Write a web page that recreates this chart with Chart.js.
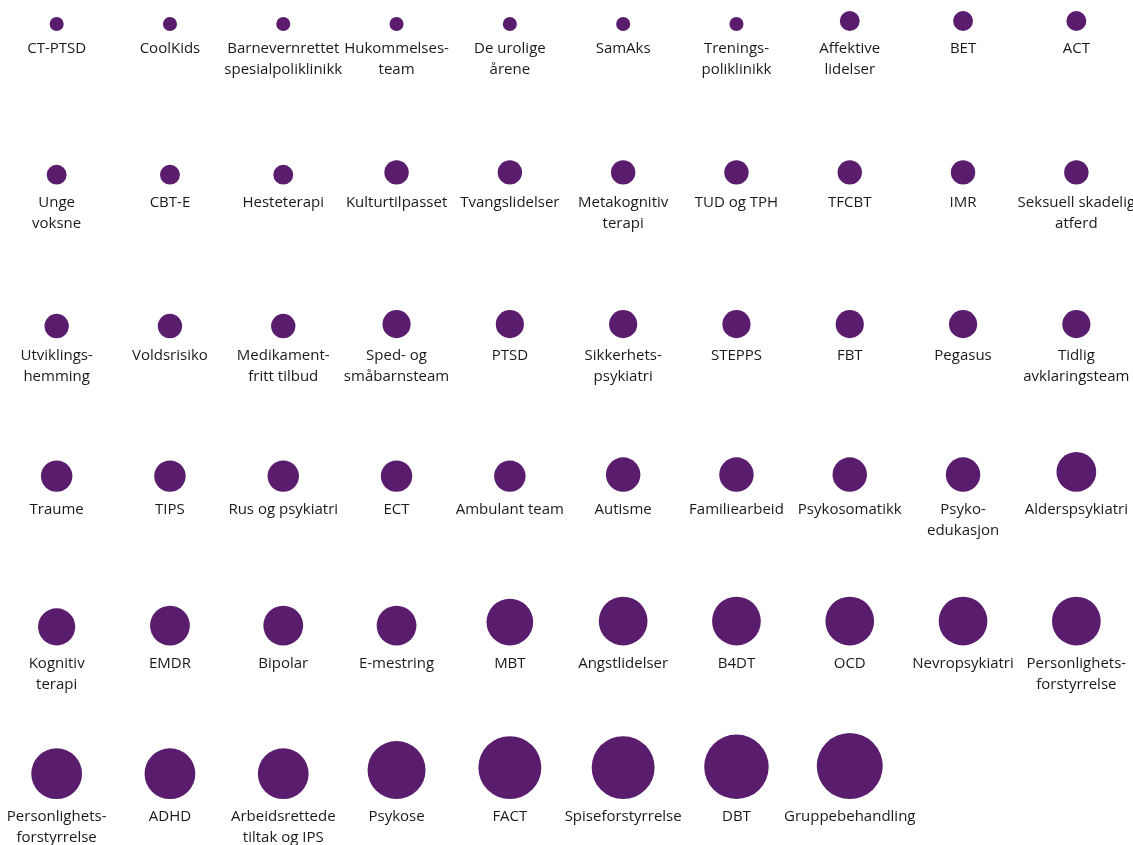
<!DOCTYPE html>
<html>
<head>
<meta charset="utf-8">
<script src="https://cdn.jsdelivr.net/npm/chart.js@4.4.1/dist/chart.umd.min.js"></script>
<style>
  html, body { margin: 0; padding: 0; background: #ffffff; }
  #wrap { width: 1133px; height: 845px; position: relative; }
</style>
</head>
<body>
<div id="wrap"><canvas id="c" width="1133" height="845"></canvas></div>
<script>
// ---- DATA ----
const categories = [
  ["CT-PTSD"], ["CoolKids"], ["Barnevernrettet", "spesialpoliklinikk"], ["Hukommelses-", "team"], ["De urolige", "årene"],
  ["SamAks"], ["Trenings-", "poliklinikk"], ["Affektive", "lidelser"], ["BET"], ["ACT"],
  ["Unge", "voksne"], ["CBT-E"], ["Hesteterapi"], ["Kulturtilpasset"], ["Tvangslidelser"],
  ["Metakognitiv", "terapi"], ["TUD og TPH"], ["TFCBT"], ["IMR"], ["Seksuell skadelig", "atferd"],
  ["Utviklings-", "hemming"], ["Voldsrisiko"], ["Medikament-", "fritt tilbud"], ["Sped- og", "småbarnsteam"], ["PTSD"],
  ["Sikkerhets-", "psykiatri"], ["STEPPS"], ["FBT"], ["Pegasus"], ["Tidlig", "avklaringsteam"],
  ["Traume"], ["TIPS"], ["Rus og psykiatri"], ["ECT"], ["Ambulant team"],
  ["Autisme"], ["Familiearbeid"], ["Psykosomatikk"], ["Psyko-", "edukasjon"], ["Alderspsykiatri"],
  ["Kognitiv", "terapi"], ["EMDR"], ["Bipolar"], ["E-mestring"], ["MBT"],
  ["Angstlidelser"], ["B4DT"], ["OCD"], ["Nevropsykiatri"], ["Personlighets-", "forstyrrelse"],
  ["Personlighets-", "forstyrrelse"], ["ADHD"], ["Arbeidsrettede", "tiltak og IPS"], ["Psykose"], ["FACT"],
  ["Spiseforstyrrelse"], ["DBT"], ["Gruppebehandling"]
];
const values = [
  1, 1, 1, 1, 1, 1, 1, 2, 2, 2,
  2, 2, 2, 3, 3, 3, 3, 3, 3, 3,
  3, 3, 3, 4, 4, 4, 4, 4, 4, 4,
  5, 5, 5, 5, 5, 6, 6, 6, 6, 8,
  7, 8, 8, 8, 11, 12, 12, 12, 12, 12,
  13, 13, 13, 17, 20, 20, 21, 22
];
const columnsPerRow = 10;

// ---- CHART ----
const COLOR = '#5a1d6e';
const maxR = 33;
const maxV = Math.max(...values);
const rFor = v => maxR * Math.sqrt(v / maxV);

const points = values.map((v, i) => ({
  x: i % columnsPerRow,
  y: Math.floor(i / columnsPerRow),
  r: rFor(v),
  label: categories[i]
}));

const FONT = '15px "Open Sans", "Noto Sans", sans-serif';

const bottomAlign = {
  id: 'bottomAlign',
  beforeDatasetsDraw(chart) {
    const ys = chart.scales.y;
    const meta = chart.getDatasetMeta(0);
    meta.data.forEach((el, i) => {
      const p = points[i];
      el.y = ys.getPixelForValue(p.y) - p.r;
    });
  }
};

const labelPlugin = {
  id: 'labelPlugin',
  afterDatasetsDraw(chart) {
    const ctx = chart.ctx;
    const xs = chart.scales.x, ys = chart.scales.y;
    ctx.save();
    ctx.font = FONT;
    ctx.fillStyle = '#1a1a1a';
    ctx.textAlign = 'center';
    ctx.textBaseline = 'middle';
    points.forEach(p => {
      const x = xs.getPixelForValue(p.x);
      const base = ys.getPixelForValue(p.y);
      p.label.forEach((line, j) => {
        ctx.fillText(line, x, base + 18 + j * 21);
      });
    });
    ctx.restore();
  }
};

new Chart(document.getElementById('c'), {
  type: 'bubble',
  data: {
    datasets: [{
      data: points,
      backgroundColor: COLOR,
      borderWidth: 0,
      hoverBorderWidth: 0,
      clip: false
    }]
  },
  options: {
    responsive: false,
    animation: false,
    events: [],
    layout: { padding: 0, autoPadding: false },
    plugins: { legend: { display: false }, tooltip: { enabled: false } },
    scales: {
      x: { type: 'linear', min: -0.5, max: 9.5, display: false },
      y: { type: 'linear', reverse: true, min: -0.2018, max: 5.299, display: false }
    }
  },
  plugins: [bottomAlign, labelPlugin]
});
</script>
</body>
</html>
